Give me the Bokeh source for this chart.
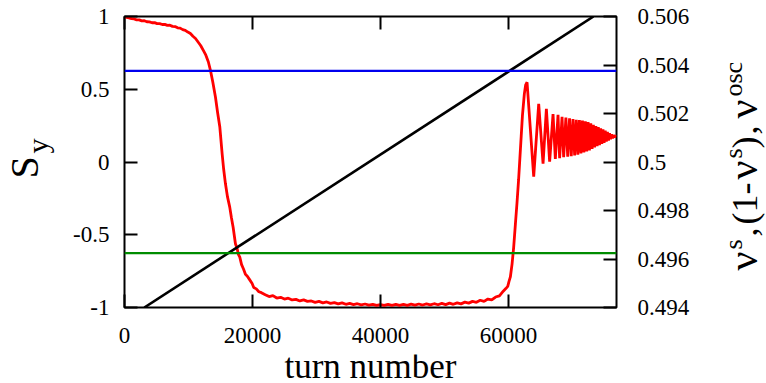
import math
from bokeh.plotting import figure
from bokeh.layouts import row, column
from bokeh.models import Range1d, LinearAxis, FixedTicker, CustomJSTickFormatter, Label, Span
from bokeh.embed import file_html
from bokeh.resources import INLINE

# ---------------- data ----------------
turn = [0, 300, 700, 1100, 1500, 1900, 2300, 2700, 3100, 3500, 3900, 4300, 4700, 5100,
        5500, 5900, 6300, 6700, 7100, 7500, 7900, 8300, 8700, 9100, 9500, 9900, 10300,
        10700, 11100, 11500, 11900, 12300, 12700, 13100, 13440,
        13800, 14220, 14550, 14900, 15270, 15500, 15780, 16100, 16450, 16700, 16980,
        17340, 17600, 17800, 18020, 18300, 18600, 18900, 19200, 19500, 19950, 20200,
        20600, 21000, 21400,
        22000, 22600, 23200, 23800, 24400, 25000, 25600, 26200, 26800, 27400, 28000,
        28600, 29200, 29800, 30400, 31000, 31600, 32200, 32800, 33400, 34000, 34600,
        35200, 35800, 36400, 37000, 37600, 38200, 38800, 39400, 40000, 40600, 41200,
        41800, 42400, 43000, 43600, 44200, 44800, 45400, 46000, 46600, 47200, 47800,
        48400, 49000, 49600, 50200, 50800, 51400, 52000, 52600, 53200, 53800, 54400,
        55000, 55600, 56200, 56800, 57400, 58000, 58600, 59200, 59600, 59900, 60100,
        60310, 60580, 60830, 61100, 61350, 61600, 61900, 62200, 62500, 62700, 62920,
        63960, 64740, 65420, 65940, 66450, 66980, 67340, 67760, 68010, 68390, 68640,
        68990, 69275, 69560, 69830, 70100, 70357, 70615, 70860, 71105, 71340, 71575,
        71800, 72025, 72243, 72460, 72670, 72880, 73083, 73285, 73481, 73677, 73867,
        74057, 74242, 74427, 74607, 74787, 74962, 75137, 75308, 75479, 75646, 75814,
        75978, 76142, 76303, 76464, 76622, 76780, 76900]
s_y = [1.0, 0.994, 0.991, 0.985, 0.983, 0.977, 0.977, 0.97, 0.971, 0.964, 0.963, 0.957,
       0.958, 0.951, 0.951, 0.945, 0.946, 0.939, 0.94, 0.932, 0.931, 0.922, 0.92, 0.91,
       0.905, 0.893, 0.883, 0.864, 0.849, 0.825, 0.801, 0.769, 0.736, 0.689, 0.629,
       0.55, 0.445, 0.34, 0.24, 0.053, -0.05, -0.15, -0.24, -0.31, -0.38, -0.448,
       -0.562, -0.595, -0.635, -0.654, -0.705, -0.735, -0.772, -0.785, -0.805, -0.835,
       -0.862, -0.872, -0.892, -0.898,
       -0.912, -0.925, -0.918, -0.935, -0.93, -0.942, -0.936, -0.948, -0.944, -0.955,
       -0.948, -0.958, -0.955, -0.965, -0.958, -0.968, -0.962, -0.972, -0.966, -0.975,
       -0.968, -0.978, -0.972, -0.98, -0.974, -0.982, -0.976, -0.984, -0.978, -0.986,
       -0.98, -0.986, -0.978, -0.985, -0.979, -0.986, -0.978, -0.985, -0.977, -0.984,
       -0.976, -0.983, -0.975, -0.982, -0.974, -0.981, -0.972, -0.98, -0.97, -0.978,
       -0.968, -0.975, -0.963, -0.97, -0.958, -0.964, -0.95, -0.958, -0.942, -0.948,
       -0.928, -0.92, -0.888, -0.87, -0.855, -0.82,
       -0.79, -0.70, -0.585, -0.425, -0.28, -0.12, 0.10, 0.32, 0.47, 0.53, 0.548,
       -0.10, 0.40, -0.012, 0.365, 0.003, 0.33, 0.021, 0.324, 0.026, 0.31, 0.033,
       0.305, 0.036, 0.30, 0.04, 0.295, 0.045, 0.29, 0.05, 0.288, 0.058, 0.285,
       0.065, 0.28, 0.072, 0.275, 0.08, 0.265, 0.09, 0.255, 0.10, 0.247, 0.108,
       0.24, 0.116, 0.232, 0.124, 0.224, 0.132, 0.216, 0.14, 0.207, 0.148, 0.198,
       0.156, 0.19, 0.163, 0.184, 0.17, 0.179, 0.177]

nu_osc_turn = [3100, 73300]
nu_osc = [0.494, 0.506]
nu_s = 0.50376
one_minus_nu_s = 0.49624

x_ticks = [0, 20000, 40000, 60000]
sy_ticks = [-1, -0.5, 0, 0.5, 1]
nu_ticks = [0.494, 0.496, 0.498, 0.5, 0.502, 0.504, 0.506]

FONT = "Liberation Serif"
H = 383                    # page height
HT = 354                   # height of the top row (plot + side label strips)
FB = 307                   # frame bottom in page pixels
LW, MW, RW = 60, 660, 46   # widths of left-label strip, main plot, right-label strip

# ---------------- main plot ----------------
p = figure(width=MW, height=HT, output_backend="svg", toolbar_location=None,
           x_range=Range1d(0, 76900), y_range=Range1d(-1, 1),
           min_border_left=124 - LW, min_border_right=LW + MW - 616,
           min_border_top=16, min_border_bottom=HT - FB)
p.extra_y_ranges = {"nu": Range1d(0.494, 0.506)}
p.xgrid.visible = False
p.ygrid.visible = False
p.outline_line_color = "black"
p.outline_line_width = 2
p.outline_line_alpha = 1

fmt = CustomJSTickFormatter(code="return String(tick);")
blank = CustomJSTickFormatter(code="return '';")

bottom = p.below[0]
left = p.left[0]
bottom.ticker = FixedTicker(ticks=x_ticks)
left.ticker = FixedTicker(ticks=sy_ticks)
right = LinearAxis(y_range_name="nu", ticker=FixedTicker(ticks=nu_ticks))
top = LinearAxis(ticker=FixedTicker(ticks=x_ticks))
p.add_layout(right, "right")
p.add_layout(top, "above")

for ax in [bottom, left, right, top]:
    ax.formatter = fmt
    ax.axis_line_color = None
    ax.major_tick_in = 13
    ax.major_tick_out = 0
    ax.minor_tick_in = 0
    ax.minor_tick_out = 0
    ax.major_tick_line_width = 2
    ax.major_tick_line_color = "black"
    ax.major_label_text_font = FONT
    ax.major_label_text_font_size = "23px"
    ax.major_label_text_color = "black"

bottom.major_label_standoff = 20
left.major_label_standoff = 15
right.major_label_standoff = 21
top.formatter = blank
top.major_label_text_font_size = "1px"
top.major_label_standoff = 0

p.add_layout(Span(location=nu_s, dimension="width", y_range_name="nu",
                  line_color="#0000ee", line_width=2.2))
p.add_layout(Span(location=one_minus_nu_s, dimension="width", y_range_name="nu",
                  line_color="#008c00", line_width=2.2))
p.line(turn, s_y, line_color="#ff0000", line_width=2.8)
p.line(nu_osc_turn, nu_osc, y_range_name="nu", line_color="black", line_width=2.6)


# ---------------- label strips ----------------
def strip(w, h):
    f = figure(width=w, height=h, output_backend="svg", toolbar_location=None,
               x_axis_type=None, y_axis_type=None, min_border=0,
               x_range=Range1d(0, 1), y_range=Range1d(0, 1))
    f.outline_line_color = None
    f.xgrid.visible = False
    f.ygrid.visible = False
    f.frame_align = False
    return f


lf = strip(LW, HT)
rf = strip(RW, HT)
bf = strip(LW + MW + RW, H - HT)
R = math.pi / 2


def piece(fig, x0, y0, text, base_x, base_y, size, angle=R, align="left"):
    # anchored at the middle of the text box; baseline lies 0.3375*size beyond it
    if angle:
        cx, cy = base_x - 0.3375 * size, base_y
    else:
        cx, cy = base_x, base_y - 0.3375 * size
    h = fig.height
    fig.add_layout(Label(x=cx - x0, y=h - (cy - y0), x_units="screen", y_units="screen",
                         text=text, angle=angle, text_align=align, text_baseline="middle",
                         text_font=FONT, text_font_size=f"{size}px", text_color="black"))


# x axis label
piece(bf, 0, HT, "turn number", 370, 378, 35, angle=0.0, align="center")
# left axis label  S_y
piece(lf, 0, 0, "S", 37, 178, 40)
piece(lf, 0, 0, "y", 47, 153, 30)
# right axis label  nu_s , (1-nu_s) ,nu_osc
X0 = LW + MW
piece(rf, X0, 0, "ν", 757, 270, 42)
piece(rf, X0, 0, "s", 742, 249, 26)
piece(rf, X0, 0, ",", 757, 236, 36)
piece(rf, X0, 0, "(1-", 757, 224, 36)
piece(rf, X0, 0, "ν", 757, 179, 42)
piece(rf, X0, 0, "s", 742, 158, 26)
piece(rf, X0, 0, ")", 757, 148, 36)
piece(rf, X0, 0, ",", 757, 134, 36)
piece(rf, X0, 0, "ν", 757, 118, 42)
piece(rf, X0, 0, "osc", 742, 96, 26)

layout = column(row(lf, p, rf, spacing=0), bf, spacing=0)
open("out.html", "w").write(file_html(layout, INLINE))
